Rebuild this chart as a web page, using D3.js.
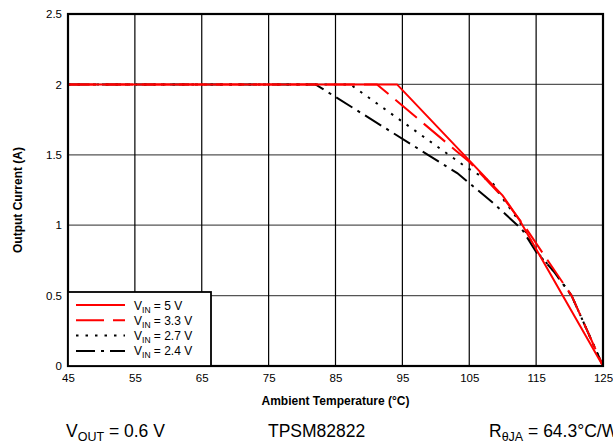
<!DOCTYPE html>
<html>
<head>
<meta charset="utf-8">
<script src="https://cdn.jsdelivr.net/npm/d3@7"></script>
<style>
  body { margin: 0; background: #fff; }
  text { font-family: "Liberation Sans", Arial, sans-serif; }
</style>
</head>
<body>
<div id="chart"></div>
<script>
// x ticks (deg C) and y ticks (A)
const xTicks = [45, 55, 65, 75, 85, 95, 105, 115, 125];
const yTicks = [0, 0.5, 1, 1.5, 2, 2.5];

// derating curves, [temperature, current]
const vin5 = [[45, 2], [94.2, 2], [110, 1.21], [112.6, 1.03], [125, 0]];
const vin33 = [[45, 2], [91.2, 2], [105, 1.45], [110, 1.2], [113.6, 0.97], [116.3, 0.78], [120.3, 0.5], [125, 0]];
const vin27 = [[45, 2], [87.2, 2], [104.6, 1.41], [108.5, 1.3], [110, 1.19], [112.6, 1.02], [115.3, 0.8], [117.7, 0.67], [120.3, 0.5], [125, 0]];
const vin24 = [[45, 2], [82, 2], [103.2, 1.37], [108.4, 1.165], [112.9, 0.97], [115, 0.81], [117.5, 0.68], [120.3, 0.5], [125, 0]];

const seriesNames = ["5 V", "3.3 V", "2.7 V", "2.4 V"];
const seriesData = [vin5, vin33, vin27, vin24];

const width = 613, height = 444;
const margin = {top: 14, right: 10, bottom: 78, left: 68};

const svg = d3.select("#chart").append("svg")
    .attr("width", width)
    .attr("height", height);

const x = d3.scaleLinear().domain([45, 125]).range([margin.left, width - margin.right]);
const y = d3.scaleLinear().domain([0, 2.5]).range([height - margin.bottom, margin.top]);

const styles = [
    {color: "#ff0000", dash: null},
    {color: "#ff0000", dash: "28,9"},
    {color: "#000000", dash: "2.5,7"},
    {color: "#000000", dash: "19,6,3,6"}
];

// grid
svg.append("g").selectAll("line")
    .data(yTicks.slice(1, -1))
    .join("line")
    .attr("x1", x(45)).attr("x2", x(125))
    .attr("y1", d => y(d)).attr("y2", d => y(d))
    .attr("stroke", "#555").attr("stroke-width", 1.2);

svg.append("g").selectAll("line")
    .data(xTicks.slice(1, -1))
    .join("line")
    .attr("x1", d => x(d)).attr("x2", d => x(d))
    .attr("y1", y(0)).attr("y2", y(2.5))
    .attr("stroke", "#000").attr("stroke-width", 1.2);

// curves
const line = d3.line().x(d => x(d[0])).y(d => y(d[1]));
// draw black ones first so red sits on top
[3, 2, 1, 0].forEach(i => {
    svg.append("path")
        .datum(seriesData[i])
        .attr("d", line)
        .attr("fill", "none")
        .attr("stroke", styles[i].color)
        .attr("stroke-width", 2)
        .attr("stroke-dasharray", styles[i].dash);
});

// frame
svg.append("rect")
    .attr("x", x(45)).attr("y", y(2.5))
    .attr("width", x(125) - x(45)).attr("height", y(0) - y(2.5))
    .attr("fill", "none").attr("stroke", "#000").attr("stroke-width", 2.2);

// axes
const xAxis = d3.axisBottom(x).tickValues(xTicks).tickSize(0).tickPadding(8);
const gx = svg.append("g").attr("transform", `translate(0,${y(0)})`).call(xAxis);
gx.select(".domain").remove();
gx.selectAll("text").attr("font-size", 11.5).attr("font-family", "Liberation Sans, Arial, sans-serif").attr("fill", "#000");

const yAxis = d3.axisLeft(y).tickValues(yTicks).tickSize(0).tickPadding(6).tickFormat(d3.format(""));
const gy = svg.append("g").attr("transform", `translate(${x(45)},0)`).call(yAxis);
gy.select(".domain").remove();
gy.selectAll("text").attr("font-size", 11.5).attr("font-family", "Liberation Sans, Arial, sans-serif").attr("fill", "#000");

// axis titles
svg.append("text")
    .attr("x", (x(45) + x(125)) / 2).attr("y", 405)
    .attr("text-anchor", "middle")
    .attr("font-size", 12).attr("font-weight", "bold")
    .text("Ambient Temperature (°C)");

svg.append("text")
    .attr("transform", `translate(22,${(y(0) + y(2.5)) / 2 + 10}) rotate(-90)`)
    .attr("text-anchor", "middle")
    .attr("font-size", 12).attr("font-weight", "bold")
    .text("Output Current (A)");

// legend
const lg = svg.append("g");
lg.append("rect")
    .attr("x", x(45)).attr("y", 292)
    .attr("width", 143).attr("height", y(0) - 292)
    .attr("fill", "#fff").attr("stroke", "#000").attr("stroke-width", 1.8);

seriesNames.forEach((name, i) => {
    const ly = 305 + i * 15.3;
    lg.append("line")
        .attr("x1", 76).attr("x2", 125)
        .attr("y1", ly).attr("y2", ly)
        .attr("stroke", styles[i].color).attr("stroke-width", 2)
        .attr("stroke-dasharray", styles[i].dash);
    const t = lg.append("text").attr("x", 134).attr("y", ly + 4.5).attr("font-size", 12);
    t.append("tspan").text("V");
    t.append("tspan").attr("font-size", 8.5).attr("dy", 3).text("IN");
    t.append("tspan").attr("dy", -3).text(" = " + name);
});

// bottom notes
const notes = svg.append("g").attr("font-size", 17.5);
const n1 = notes.append("text").attr("x", 66).attr("y", 437);
n1.append("tspan").text("V");
n1.append("tspan").attr("font-size", 12.5).attr("dy", 4).text("OUT");
n1.append("tspan").attr("dy", -4).text(" = 0.6 V");

notes.append("text").attr("x", 268).attr("y", 437).text("TPSM82822");

const n3 = notes.append("text").attr("x", 489).attr("y", 437);
n3.append("tspan").text("R");
n3.append("tspan").attr("font-size", 12.5).attr("dy", 4).text("θJA");
n3.append("tspan").attr("dy", -4).text(" = 64.3°C/W");
</script>
</body>
</html>
